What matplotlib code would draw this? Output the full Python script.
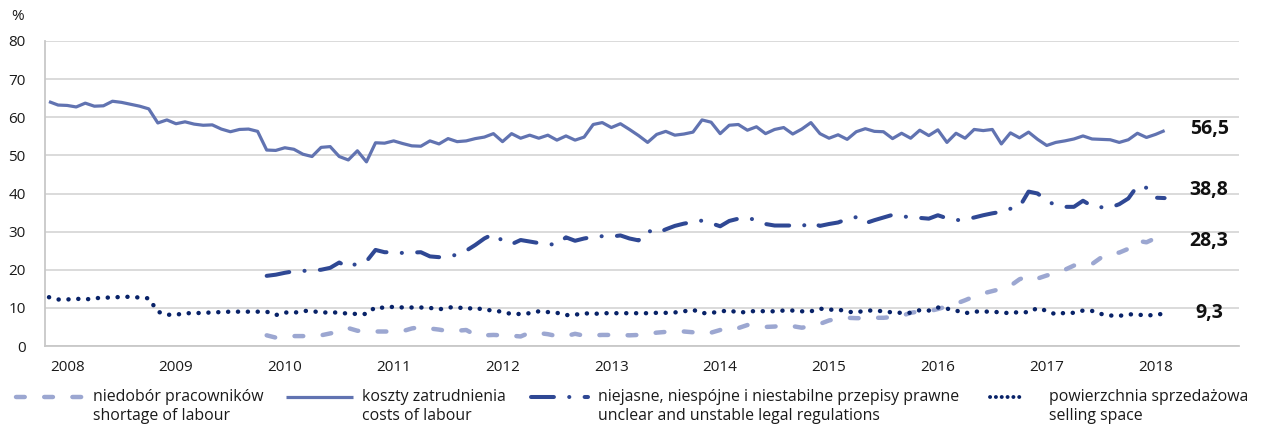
import matplotlib
matplotlib.use("Agg")
import matplotlib.pyplot as plt
from matplotlib.lines import Line2D
import numpy as np

plt.rcParams['font.family'] = ['Open Sans', 'DejaVu Sans']
plt.rcParams['lines.scale_dashes'] = False

# ---------------- data (monthly, index 0 = first month shown) ----------------
years = ['2008', '2009', '2010', '2011', '2012', '2013', '2014', '2015', '2016', '2017', '2018']

costs_of_labour = [
    64.1, 63.2, 63.1, 62.7, 63.7, 62.9, 63.0, 64.2, 63.9, 63.4, 62.9, 62.2,
    58.5, 59.3, 58.3, 58.8, 58.2, 57.9, 58.0, 56.9, 56.2, 56.8, 56.9, 56.3,
    51.4, 51.3, 52.0, 51.6, 50.3, 49.7, 52.1, 52.3, 49.7, 48.8, 51.2, 48.3,
    53.3, 53.2, 53.8, 53.1, 52.5, 52.4, 53.8, 53.0, 54.4, 53.6, 53.8, 54.4,
    54.8, 55.7, 53.6, 55.7, 54.5, 55.3, 54.5, 55.3, 54.0, 55.1, 54.0, 54.8,
    58.1, 58.6, 57.3, 58.3, 56.8, 55.2, 53.4, 55.5, 56.3, 55.3, 55.6, 56.1,
    59.3, 58.7, 55.7, 57.9, 58.1, 56.6, 57.5, 55.7, 56.8, 57.3, 55.6, 56.9,
    58.6, 55.7, 54.5, 55.4, 54.2, 56.2, 57.0, 56.3, 56.2, 54.4, 55.8, 54.5,
    56.6, 55.2, 56.7, 53.4, 55.8, 54.5, 56.8, 56.5, 56.8, 53.0, 55.9, 54.6,
    56.1, 54.2, 52.6, 53.4, 53.8, 54.3, 55.1, 54.3, 54.2, 54.1, 53.4, 54.1,
    55.8, 54.7, 55.5, 56.5]

selling_space = [
    12.8, 12.2, 12.2, 12.4, 12.2, 12.5, 12.7, 12.7, 12.9, 12.9, 12.7, 12.5,
    9.0, 8.2, 8.2, 8.6, 8.6, 8.7, 8.8, 8.9, 9.0, 9.0, 9.0, 9.0,
    9.0, 8.1, 8.8, 8.7, 9.2, 9.2, 8.7, 8.9, 8.7, 8.5, 8.4, 8.4,
    10.2, 10.0, 10.3, 10.1, 10.1, 10.1, 10.0, 9.6, 10.1, 10.2, 9.7, 10.1,
    9.4, 9.4, 8.9, 8.4, 8.4, 8.6, 9.1, 8.9, 8.7, 8.1, 8.2, 8.6,
    8.4, 8.6, 8.6, 8.6, 8.6, 8.6, 8.6, 8.7, 8.7, 8.8, 9.1, 9.5,
    8.6, 8.7, 9.0, 9.4, 8.7, 9.0, 9.2, 9.1, 9.1, 9.3, 9.3, 9.1,
    9.1, 9.8, 9.5, 9.6, 9.0, 8.8, 9.3, 9.3, 9.1, 8.8, 8.7, 8.7,
    9.4, 9.3, 10.1, 9.8, 9.3, 8.6, 9.0, 9.1, 8.9, 8.9, 8.5, 9.0,
    8.8, 10.0, 9.2, 8.3, 8.7, 8.7, 9.3, 9.2, 8.4, 8.0, 7.9, 8.3,
    8.3, 7.9, 8.3, 8.4]

legal_start = 24
legal_regulations = [
    18.4, 18.7, 19.2, 19.6, 19.7, 19.8, 20.0, 20.5, 21.9, 20.6, 21.7, 22.2,
    25.2, 24.6, 24.6, 24.4, 24.5, 24.6, 23.5, 23.3, 23.4, 24.0, 25.0, 26.5,
    28.2, 29.4, 27.6, 26.7, 27.8, 27.4, 27.0, 26.7, 26.6, 28.5, 27.6, 28.2,
    28.6, 28.8, 28.7, 29.0, 28.2, 27.7, 30.3, 29.5, 30.6, 31.5, 32.1, 32.5,
    32.9, 32.2, 31.4, 32.8, 33.4, 33.6, 33.0, 32.0, 31.6, 31.6, 31.6, 31.4,
    32.4, 31.5, 32.0, 32.4, 33.3, 33.8, 32.2, 33.0, 33.7, 34.4, 34.0, 33.8,
    33.6, 33.4, 34.3, 33.5, 33.0, 33.2, 33.7, 34.3, 34.8, 35.2, 36.0, 36.5,
    40.5, 40.0, 38.0, 37.0, 36.5, 36.5, 38.1, 36.7, 36.4, 36.3, 37.2, 38.7,
    42.0, 41.5, 38.9, 38.8]

shortage_start = 24
shortage_of_labour = [
    2.8, 2.2, 2.3, 2.6, 2.6, 2.6, 2.8, 3.3, 3.8, 4.7, 4.0, 3.8,
    3.8, 3.8, 3.8, 3.9, 4.6, 5.0, 4.6, 4.3, 3.9, 4.0, 4.2, 2.9,
    2.8, 2.9, 2.8, 2.7, 2.5, 3.5, 3.4, 3.1, 2.6, 2.6, 3.2, 2.7,
    2.8, 2.9, 2.9, 2.9, 2.8, 2.9, 3.2, 3.5, 3.7, 3.8, 3.8, 3.6,
    3.3, 3.5, 4.2, 4.0, 4.7, 5.5, 5.2, 5.0, 5.1, 5.4, 5.2, 4.8,
    5.2, 5.8, 6.7, 7.2, 7.4, 7.3, 7.3, 7.4, 7.4, 7.6, 7.9, 8.7,
    9.1, 9.1, 9.7, 10.4, 11.1, 12.0, 13.0, 13.8, 14.4, 15.0, 15.8, 17.5,
    18.4, 17.7, 18.5, 19.1, 20.0, 21.1, 21.3, 21.5, 23.2, 24.3, 24.5, 25.5,
    27.6, 27.2, 28.3, 28.3]

end_labels = ['56,5', '38,8', '28,3', '9,3']
legend_pl = ['niedobór pracowników', 'koszty zatrudnienia',
             'niejasne, niespójne i niestabilne przepisy prawne', 'powierzchnia sprzedażowa']
legend_en = ['shortage of labour', 'costs of labour',
             'unclear and unstable legal regulations', 'selling space']

# ---------------- styles ----------------
c_short = '#9ca7d1'
c_cost = '#6173b1'
c_legal = '#2f4894'
c_sell = '#082268'
txt = '#1a1a1a'

st_short = dict(color=c_short, lw=3.2, linestyle=(0, (6.3, 14.0)), dash_capstyle='round', solid_capstyle='round')
st_cost = dict(color=c_cost, lw=2.3, linestyle='-', solid_joinstyle='round', solid_capstyle='butt')
st_legal = dict(color=c_legal, lw=2.9, linestyle=(0, (16.5, 11.0, 0.1, 11.0)), dash_capstyle='round', dash_joinstyle='round')
st_sell = dict(color=c_sell, lw=3.2, linestyle=(0, (0.1, 7.0)), dash_capstyle='round')
st_sell_leg = dict(color=c_sell, lw=2.8, linestyle=(0, (0.1, 4.1)), dash_capstyle='round')

W, H = 1275, 425
fig = plt.figure(figsize=(W / 100, H / 100), dpi=100)
ax = fig.add_axes([45 / W, 1 - 346 / H, (1239 - 45) / W, (346 - 41) / H])

x_cost = np.arange(len(costs_of_labour))
x_sell = np.arange(len(selling_space))
x_legal = np.arange(len(legal_regulations)) + legal_start
x_short = np.arange(len(shortage_of_labour)) + shortage_start

ax.plot(x_short, shortage_of_labour, **st_short, zorder=3)
ax.plot(x_cost, costs_of_labour, **st_cost, zorder=4)
ax.plot(x_legal, legal_regulations, **st_legal, zorder=5)
ax.plot(x_sell, selling_space, **st_sell, zorder=6)

ax.set_xlim(-0.44, 131.2)
ax.set_ylim(0, 80)
ax.set_yticks(np.arange(0, 81, 10))
ax.set_xticks([2 + 12 * k for k in range(len(years))])
ax.set_xticklabels(years)
ax.grid(axis='y', color='#d4d4d4', lw=1.2)
ax.set_axisbelow(True)
for s in ['top', 'right']:
    ax.spines[s].set_visible(False)
for s in ['left', 'bottom']:
    ax.spines[s].set_color('#c8c8c8')
    ax.spines[s].set_linewidth(1.3)
ax.tick_params(axis='both', length=0, labelsize=11, colors=txt)
ax.tick_params(axis='y', pad=14)
ax.tick_params(axis='x', pad=10)

fig.text(18 / W, 1 - 17 / H, '%', fontsize=11, color=txt, ha='center', va='center')

# end value labels
label_y = [56.9, 40.9, 27.5, 8.7]
for lab, yy in zip(end_labels, label_y):
    ax.text(127.9, yy, lab, fontsize=14, fontweight='bold', color='#111111',
            ha='center', va='center', clip_on=False)

# legend (manual, in figure pixels)
styles = [st_short, st_cost, st_legal, st_sell_leg]
handles_px = [(16, 86), (286, 353), (531, 588), (990, 1024)]
text_x = [93, 362, 598, 1049]
hy = 397
for (x0, x1), tx, st, pl, en in zip(handles_px, text_x, styles, legend_pl, legend_en):
    fig.add_artist(Line2D([x0 / W, x1 / W], [1 - hy / H, 1 - hy / H], transform=fig.transFigure, **st))
    fig.text(tx / W, 1 - hy / H, pl, fontsize=11.4, color=txt, ha='left', va='center')
    fig.text(tx / W, 1 - (hy + 19) / H, en, fontsize=11.4, color=txt, ha='left', va='center')

fig.savefig('out.png', dpi=100)
